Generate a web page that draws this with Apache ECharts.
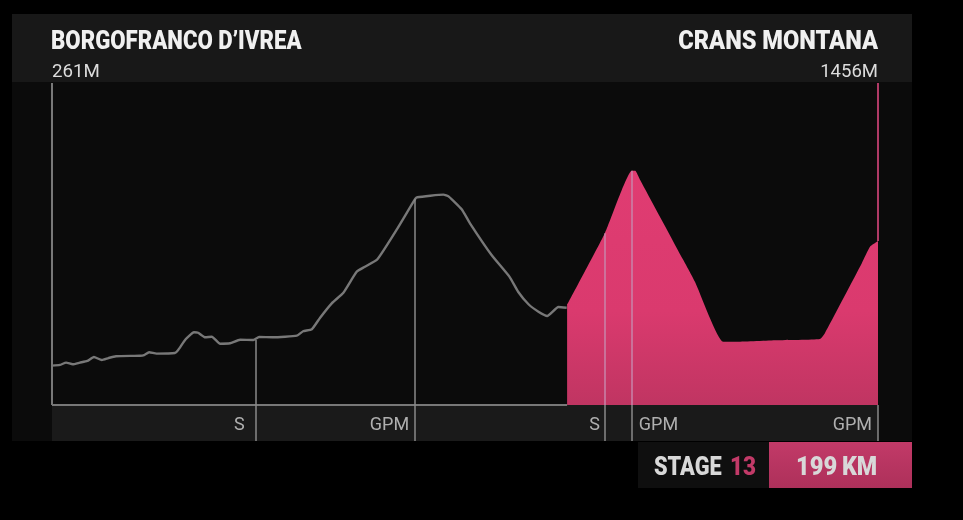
<!DOCTYPE html>
<html>
<head>
<meta charset="UTF-8">
<title>Stage 13 profile</title>
<script src="https://cdn.jsdelivr.net/npm/echarts@6/dist/echarts.min.js"></script>
<style>
  html, body { margin: 0; padding: 0; background: #000; }
</style>
</head>
<body>
<div id="main" style="width: 963px; height: 520px;"></div>
<script>
// profile: km from start, metres of altitude
const approachKm = [0, 1.9, 3.4, 5.0, 6.7, 8.5, 10.1, 12.0, 13.6, 15.4, 21.2, 22.2, 23.4, 25.2, 29.6, 30.4, 32.2, 34.2, 35.2, 36.9, 38.5, 40.5, 42.9, 45.3, 48.5, 49.9, 53.3, 59.0, 60.5, 62.6, 64.6, 67.4, 70.2, 73.4, 75.4, 78.4, 83.0, 87.5, 88.0, 94.3, 95.6, 98.7, 100.7, 105.9, 110.2, 112.3, 114.8, 117.2, 119.3, 122.0, 124.0];
const approachElev = [264, 271, 293, 277, 293, 309, 347, 318, 337, 354, 359, 366, 392, 379, 385, 414, 516, 583, 579, 535, 541, 474, 478, 512, 510, 538, 535, 551, 593, 612, 723, 860, 962, 1162, 1210, 1281, 1561, 1858, 1874, 1899, 1880, 1759, 1625, 1322, 1115, 971, 851, 780, 739, 825, 818];
const finaleKm = [124.1, 133.2, 139.7, 140.5, 141.7, 152.1, 154.9, 161.7, 165.0, 174.6, 185.0, 186.2, 195.1, 197.1, 199];
const finaleElev = [844, 1530, 2128, 2128, 2039, 1274, 1067, 493, 493, 507, 519, 574, 1243, 1402, 1456];

// intermediate points on the route
const pointKm = [49.1, 87.5, 133.2, 139.7, 199];
const pointElev = [510, 1858, 1530, 2128, 1456];
const pointType = ['S', 'GPM', 'S', 'GPM', 'GPM'];

const startName = 'BORGOFRANCO D’IVREA';
const finishName = 'CRANS MONTANA';
const startAlt = '261M';
const finishAlt = '1456M';
const stageLabel = 'STAGE';
const stageNumber = '13';
const stageLengthNum = '199';
const stageLengthUnit = 'KM';
const totalKm = 199;

const yMin = -456, yMax = 2966, baseline = -112;
const labelRow = -310;

const font = 'Roboto';
const pink = '#c23a68';
const lineGrey = '#787878';
const markerGrey = '#8a8a8a';
const markerPink = '#c884aa';

// where each point label sits against its line
const labelPlace = [['left', 11], ['left', 6], ['left', 5], ['right', 7], ['left', 6]];

function box(x, y, width, height, fill) {
  return { type: 'rect', shape: { x, y, width, height }, style: { fill }, silent: true, z: -10 };
}
function text(x, y, str, size, weight, fill, align, sx) {
  return {
    type: 'text', x, y, scaleX: sx, z: 5, silent: true,
    style: { text: str, font: weight + ' ' + size + 'px ' + font, fill, align, verticalAlign: 'middle' }
  };
}
function segment(km, from, to, style) {
  return [{ coord: [km, from], lineStyle: style }, { coord: [km, to] }];
}

const chart = echarts.init(document.getElementById('main'));

const greyStyle = { color: markerGrey, width: 1.5 };
const pinkStyle = { color: markerPink, width: 1.5 };
const onApproach = pointKm.slice(0, 2).map((km, i) => segment(km, pointElev[i], yMin, greyStyle));
const onFinale = [2, 3].map(i => segment(pointKm[i], pointElev[i], baseline, pinkStyle));
const inStrip = [2, 3, 4].map(i => segment(pointKm[i], baseline, yMin, greyStyle));

chart.setOption({
  animation: false,
  backgroundColor: '#000',
  grid: { left: 52, right: 85, top: 83, bottom: 79 },
  xAxis: { type: 'value', min: 0, max: totalKm, show: false },
  yAxis: { type: 'value', min: yMin, max: yMax, show: false },
  graphic: [
    box(12, 14, 900, 427, '#0b0b0b'),
    box(12, 14, 900, 68, '#181818'),
    box(638, 442, 131, 46, '#0f0f0f'),
    {
      type: 'rect', shape: { x: 769, y: 442, width: 143, height: 46 }, silent: true, z: -10,
      style: { fill: new echarts.graphic.LinearGradient(0, 0, 0, 1, [
        { offset: 0, color: '#c23a68' }, { offset: 1, color: '#ad305a' }
      ]) }
    },
    text(51, 43, startName, 25, '900', '#f0f0f0', 'left', 0.888),
    text(878, 43, finishName, 25, '900', '#f0f0f0', 'right', 0.944),
    text(52, 72, startAlt, 18, 'normal', '#dcdcdc', 'left', 1.04),
    text(878, 72, finishAlt, 18, 'normal', '#dcdcdc', 'right', 1.03),
    text(654, 469, stageLabel, 25, '900', '#d8d8d8', 'left', 0.87),
    text(730, 469, stageNumber, 25, '900', pink, 'left', 0.9),
    text(796, 469, stageLengthNum, 25, '900', '#d8d8d8', 'left', 0.95),
    text(842, 469, stageLengthUnit, 25, '900', '#d8d8d8', 'left', 0.93)
  ],
  series: [
    {
      // strip under the baseline that carries the point labels
      type: 'line', data: [], silent: true, z: 1,
      markArea: {
        silent: true,
        itemStyle: { color: '#1a1a1a' },
        data: [[{ coord: [0, baseline] }, { coord: [totalKm, yMin] }]]
      }
    },
    {
      type: 'line',
      data: approachKm.map((km, i) => [km, approachElev[i]]),
      showSymbol: false, smooth: 0.15, z: 3,
      lineStyle: { color: lineGrey, width: 2.4 },
      markLine: {
        silent: true, symbol: 'none', label: { show: false },
        lineStyle: { color: lineGrey, width: 2, type: 'solid' },
        data: [[{ coord: [0, baseline] }, { coord: [finaleKm[0], baseline] }],
               [{ coord: [0, yMax] }, { coord: [0, baseline] }]]
      }
    },
    {
      type: 'line',
      data: finaleKm.map((km, i) => [km, finaleElev[i]]),
      showSymbol: false, smooth: 0.15, z: 4,
      lineStyle: { width: 0 },
      areaStyle: {
        origin: baseline, opacity: 1,
        color: new echarts.graphic.LinearGradient(0, 0, 0, 1, [
          { offset: 0, color: '#e03c72' },
          { offset: 0.6, color: '#da3a6e' },
          { offset: 1, color: '#c03562' }
        ])
      },
      markLine: {
        silent: true, symbol: 'none', label: { show: false },
        lineStyle: { type: 'solid' },
        data: onFinale.concat(inStrip, [
          segment(totalKm, yMax, finaleElev[finaleElev.length - 1], { color: '#b03a66', width: 2 })
        ])
      }
    },
    {
      type: 'line', data: [], silent: true, z: 3,
      markLine: {
        silent: true, symbol: 'none', label: { show: false },
        lineStyle: { type: 'solid' },
        data: onApproach
      }
    },
    {
      type: 'scatter', silent: true, z: 6, symbolSize: 0,
      data: pointKm.map((km, i) => ({
        value: [km, labelRow],
        label: {
          show: true, position: labelPlace[i][0], distance: labelPlace[i][1], formatter: pointType[i],
          fontFamily: font, fontSize: 18, color: '#d4d4d4'
        }
      }))
    }
  ]
});
</script>
</body>
</html>
